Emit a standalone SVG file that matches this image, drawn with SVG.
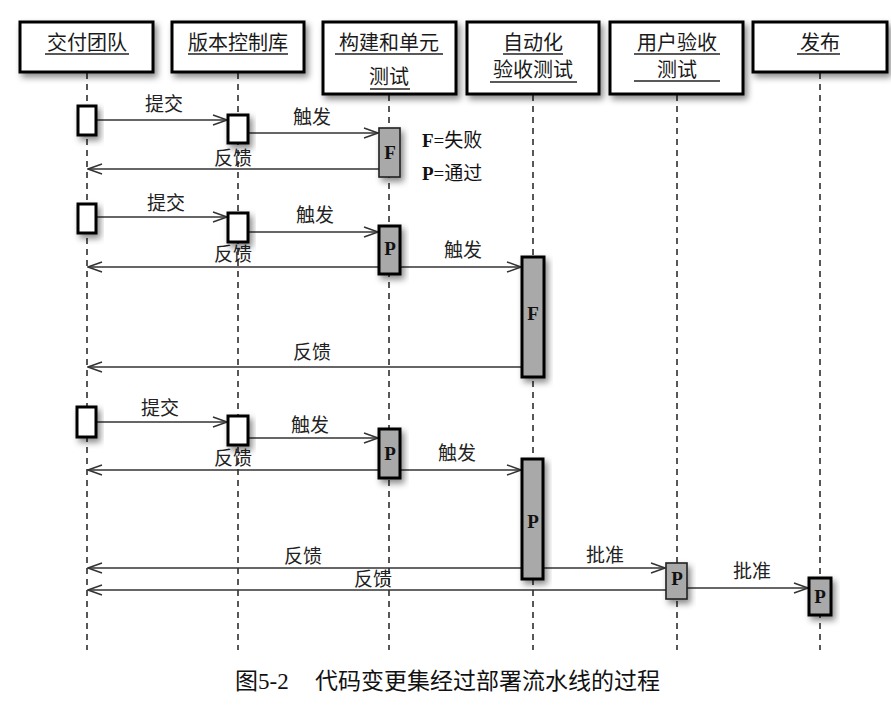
<svg xmlns="http://www.w3.org/2000/svg" width="891" height="715" viewBox="0 0 891 715">
<style>
.hdr{fill:#fff;stroke:#000;stroke-width:3}
.ht{font-family:"Noto Sans CJK SC","Liberation Sans",sans-serif;font-size:20px;fill:#1a1a1a;text-anchor:middle}
.ul{stroke:#222;stroke-width:1.5}
.life{stroke:#111;stroke-width:1.4;stroke-dasharray:6 5;fill:none}
.act{fill:#fff;stroke:#000;stroke-width:3}
.actg{fill:#a9a9a9;stroke:#000;stroke-width:3}
.actgt{fill:#a9a9a9;stroke:#222;stroke-width:1.6}
.msg{stroke:#333;stroke-width:1.3;fill:none}
.lbl{font-family:"Noto Sans CJK SC","Liberation Serif",sans-serif;font-size:19px;fill:#222;text-anchor:middle}
.let{font-family:"Liberation Serif",serif;font-weight:bold;font-size:19px;fill:#111;text-anchor:middle}
.leg{font-family:"Liberation Serif","Noto Sans CJK SC",serif;font-size:19px;fill:#111}
.cap{font-family:"Liberation Serif","Noto Sans CJK SC",serif;font-size:23px;fill:#111}
</style>
<defs>
<filter id="sh" x="-40%" y="-40%" width="180%" height="180%">
<feDropShadow dx="3" dy="4" stdDeviation="3" flood-color="#000" flood-opacity="0.45"/>
</filter>
<marker id="ah" viewBox="0 0 16 12" refX="15" refY="6" markerWidth="16" markerHeight="12" markerUnits="userSpaceOnUse" orient="auto-start-reverse">
<path d="M1,1 L15,6 L1,11" fill="none" stroke="#333" stroke-width="1.4"/>
</marker>
</defs>
<rect width="891" height="715" fill="#fff"/>

<g id="lifelines">
<line class="life" x1="87" y1="73" x2="87" y2="650"/>
<line class="life" x1="238" y1="73" x2="238" y2="650"/>
<line class="life" x1="389" y1="95" x2="389" y2="650"/>
<line class="life" x1="533" y1="95" x2="533" y2="650"/>
<line class="life" x1="677" y1="95" x2="677" y2="650"/>
<line class="life" x1="820" y1="73" x2="820" y2="650"/>
</g>

<g id="h1"><rect class="hdr" filter="url(#sh)" x="20" y="22" width="133" height="50"/><text class="ht" x="87" y="50">交付团队</text><line class="ul" x1="45" y1="54" x2="129" y2="54"/></g>
<g id="h2"><rect class="hdr" filter="url(#sh)" x="172" y="22" width="132" height="50"/><text class="ht" x="238" y="50">版本控制库</text><line class="ul" x1="188" y1="54" x2="288" y2="54"/></g>
<g id="h3"><rect class="hdr" filter="url(#sh)" x="323" y="22" width="133" height="72"/><text class="ht" x="389" y="50">构建和单元</text><line class="ul" x1="335" y1="54" x2="443" y2="54"/><text class="ht" x="389" y="84">测试</text><line class="ul" x1="370" y1="89" x2="410" y2="89"/></g>
<g id="h4"><rect class="hdr" filter="url(#sh)" x="467" y="22" width="132" height="72"/><text class="ht" x="533" y="50">自动化</text><line class="ul" x1="503" y1="54" x2="563" y2="54"/><text class="ht" x="533" y="77">验收测试</text><line class="ul" x1="490" y1="82" x2="577" y2="82"/></g>
<g id="h5"><rect class="hdr" filter="url(#sh)" x="610" y="22" width="133" height="72"/><text class="ht" x="677" y="50">用户验收</text><line class="ul" x1="634" y1="54" x2="720" y2="54"/><text class="ht" x="677" y="77">测试</text><line class="ul" x1="634" y1="81" x2="720" y2="81"/></g>
<g id="h6"><rect class="hdr" filter="url(#sh)" x="753" y="22" width="134" height="50"/><text class="ht" x="820" y="50">发布</text><line class="ul" x1="797" y1="54" x2="840" y2="54"/></g>

<g id="connectors">
<line class="msg" x1="96" y1="120" x2="227" y2="120" marker-end="url(#ah)"/>
<line class="msg" x1="249" y1="133" x2="378" y2="133" marker-end="url(#ah)"/>
<line class="msg" x1="379" y1="169" x2="88" y2="169" marker-end="url(#ah)"/>
<line class="msg" x1="96" y1="217" x2="227" y2="217" marker-end="url(#ah)"/>
<line class="msg" x1="249" y1="232" x2="378" y2="232" marker-end="url(#ah)"/>
<line class="msg" x1="379" y1="267" x2="88" y2="267" marker-end="url(#ah)"/>
<line class="msg" x1="400" y1="267" x2="521" y2="267" marker-end="url(#ah)"/>
<line class="msg" x1="522" y1="367" x2="88" y2="367" marker-end="url(#ah)"/>
<line class="msg" x1="93" y1="422" x2="227" y2="422" marker-end="url(#ah)"/>
<line class="msg" x1="249" y1="438" x2="378" y2="438" marker-end="url(#ah)"/>
<line class="msg" x1="379" y1="470" x2="88" y2="470" marker-end="url(#ah)"/>
<line class="msg" x1="400" y1="470" x2="521" y2="470" marker-end="url(#ah)"/>
<line class="msg" x1="522" y1="568" x2="88" y2="568" marker-end="url(#ah)"/>
<line class="msg" x1="543" y1="568" x2="665" y2="568" marker-end="url(#ah)"/>
<line class="msg" x1="666" y1="590" x2="88" y2="590" marker-end="url(#ah)"/>
<line class="msg" x1="687" y1="588" x2="808" y2="588" marker-end="url(#ah)"/>
<text class="lbl" x="164" y="111">提交</text>
<text class="lbl" x="312" y="124">触发</text>
<text class="lbl" x="233" y="165">反馈</text>
<text class="lbl" x="166" y="210">提交</text>
<text class="lbl" x="315" y="222">触发</text>
<text class="lbl" x="233" y="261">反馈</text>
<text class="lbl" x="463" y="257">触发</text>
<text class="lbl" x="312" y="359">反馈</text>
<text class="lbl" x="160" y="415">提交</text>
<text class="lbl" x="310" y="432">触发</text>
<text class="lbl" x="233" y="465">反馈</text>
<text class="lbl" x="457" y="460">触发</text>
<text class="lbl" x="303" y="563">反馈</text>
<text class="lbl" x="373" y="586">反馈</text>
<text class="lbl" x="605" y="562">批准</text>
<text class="lbl" x="752" y="578">批准</text>
</g>

<g id="a1"><rect class="act" filter="url(#sh)" x="78" y="106" width="18" height="29"/></g>
<g id="a2"><rect class="act" filter="url(#sh)" x="228" y="115" width="20" height="28"/></g>
<g id="a3"><rect class="actgt" filter="url(#sh)" x="379" y="128" width="21" height="49"/><text class="let" x="390" y="159">F</text></g>
<g id="a4"><rect class="act" filter="url(#sh)" x="78" y="204" width="18" height="29"/></g>
<g id="a5"><rect class="act" filter="url(#sh)" x="228" y="213" width="20" height="29"/></g>
<g id="a6"><rect class="actg" filter="url(#sh)" x="379" y="226" width="21" height="48"/><text class="let" x="390" y="255">P</text></g>
<g id="a7"><rect class="actg" filter="url(#sh)" x="522" y="257" width="22" height="120"/><text class="let" x="533" y="320">F</text></g>
<g id="a8"><rect class="act" filter="url(#sh)" x="77" y="407" width="19" height="30"/></g>
<g id="a9"><rect class="act" filter="url(#sh)" x="228" y="416" width="20" height="29"/></g>
<g id="a10"><rect class="actg" filter="url(#sh)" x="379" y="429" width="21" height="49"/><text class="let" x="390" y="460">P</text></g>
<g id="a11"><rect class="actg" filter="url(#sh)" x="522" y="459" width="21" height="120"/><text class="let" x="533" y="528">P</text></g>
<g id="a12"><rect class="actgt" filter="url(#sh)" x="666" y="563" width="21" height="36"/><text class="let" x="677" y="585">P</text></g>
<g id="a13"><rect class="actg" filter="url(#sh)" x="809" y="578" width="22" height="37"/><text class="let" x="820" y="603">P</text></g>

<g id="legend">
<text class="leg" x="422" y="147"><tspan font-weight="bold">F</tspan>=失败</text>
<text class="leg" x="422" y="180"><tspan font-weight="bold">P</tspan>=通过</text>
</g>

<text class="cap" x="235" y="689">图5-2<tspan x="315">代码变更集经过部署流水线的过程</tspan></text>
</svg>
